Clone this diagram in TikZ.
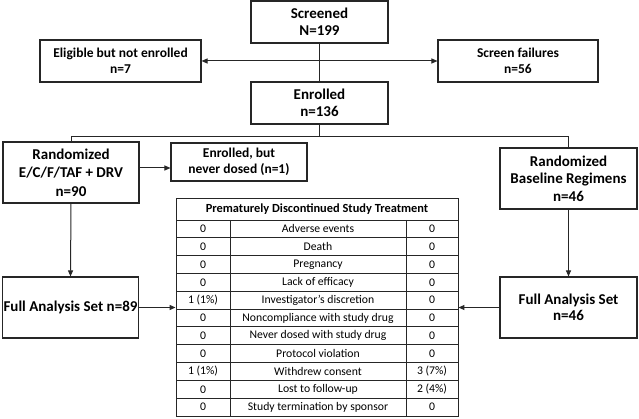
\documentclass[tikz,border=0pt]{standalone}
\usepackage{fontspec}
\setmainfont{Carlito}
\usetikzlibrary{arrows.meta,calc}
\begin{document}
\begin{tikzpicture}[x=1pt,y=-1pt,
 box/.style={draw=black!85, line width=1.1pt, fill=white, align=center, inner sep=1pt, font=\bfseries\fontsize{15}{17}\selectfont},
 sbox/.style={box, font=\bfseries\fontsize{13.5}{15.5}\selectfont},
 line/.style={draw=black!85, line width=1pt},
 arr/.style={line, -{Triangle[length=6pt,width=5pt]}},
 darr/.style={line, {Triangle[length=6pt,width=5pt]}-{Triangle[length=6pt,width=5pt]}},
 cell/.style={font=\fontsize{11.7}{13}\selectfont, inner sep=0pt, anchor=center},
 hcell/.style={font=\bfseries\fontsize{12.4}{14}\selectfont, inner sep=0pt, anchor=center},
 grid/.style={draw=black!85, line width=0.9pt}
]
\useasboundingbox (0,0) rectangle (639,419);

\node[box, minimum width=137, minimum height=42] (scr) at (319.5,22) {Screened\\N=199};
\node[sbox, minimum width=161, minimum height=42] (elig) at (120.5,61) {Eligible but not enrolled\\n=7};
\node[sbox, minimum width=160, minimum height=42] (fail) at (518,61) {Screen failures\\n=56};
\node[box, minimum width=137, minimum height=42] (enr) at (319.5,103) {Enrolled\\n=136};
\node[box, minimum width=136, minimum height=61, font=\bfseries\fontsize{15}{18.5}\selectfont] (r1) at (71,172.5) {Randomized\\E/C/F/TAF + DRV\\n=90};
\node[sbox, minimum width=136, minimum height=38] (nd) at (239,162) {Enrolled, but\\never dosed (n=1)};
\node[box, minimum width=137, minimum height=61, font=\bfseries\fontsize{15}{17.5}\selectfont] (r2) at (568.5,178.5) {Randomized\\Baseline Regimens\\n=46};
\node[box, minimum width=135, minimum height=61] (f1) at (70.5,307.5) {Full Analysis Set n=89};
\node[box, minimum width=137, minimum height=61, font=\bfseries\fontsize{15}{16}\selectfont] (f2) at (568.5,307.5) {Full Analysis Set\\n=46};

% table
\node[grid, minimum width=282, minimum height=218, inner sep=0pt] (tbl) at (317,307) {};
\foreach \k in {0,...,10} \draw[grid] (176,220+\k*17.82) -- (458,220+\k*17.82);
\draw[grid] (230,220) -- (230,416);
\draw[grid] (406,220) -- (406,416);
\node[hcell] (th) at (317,209) {Prematurely Discontinued Study Treatment};
\foreach \a/\b/\c [count=\i from 0] in {0/Adverse events/0, 0/Death/0, 0/Pregnancy/0, 0/Lack of efficacy/0, 1 (1\%)/Investigator’s discretion/0, 0/Noncompliance with study drug/0, 0/Never dosed with study drug/0, 0/Protocol violation/0, 1 (1\%)/Withdrew consent/3 (7\%), 0/Lost to follow-up/2 (4\%), 0/Study termination by sponsor/0}{
  \node[cell] (ca\i) at (203,220+\i*17.82+8.91) {\a};
  \node[cell] (cb\i) at (318,220+\i*17.82+8.91) {\b};
  \node[cell] (cc\i) at (432,220+\i*17.82+8.91) {\c};
}

% connectors
\draw[line] (scr.south) -- (enr.north);
\draw[darr] (elig.east) -- (fail.west);
\coordinate (split) at ($(enr.south)+(0,12)$);
\draw[line] (enr.south) -- (split);
\draw[line] (r1.north) |- (split) -| (r2.north);
\draw[arr] ([yshift=4.5pt]r1.east) -- ([yshift=4.5pt]r1.east -| nd.west);
\draw[arr] (r1.south) -- (f1.north);
\draw[arr] (r2.south) -- (f2.north);
\draw[arr] (f1.east) -- (f1.east -| tbl.west);
\draw[arr] (f2.west) -- (f2.west -| tbl.east);
\end{tikzpicture}
\end{document}
